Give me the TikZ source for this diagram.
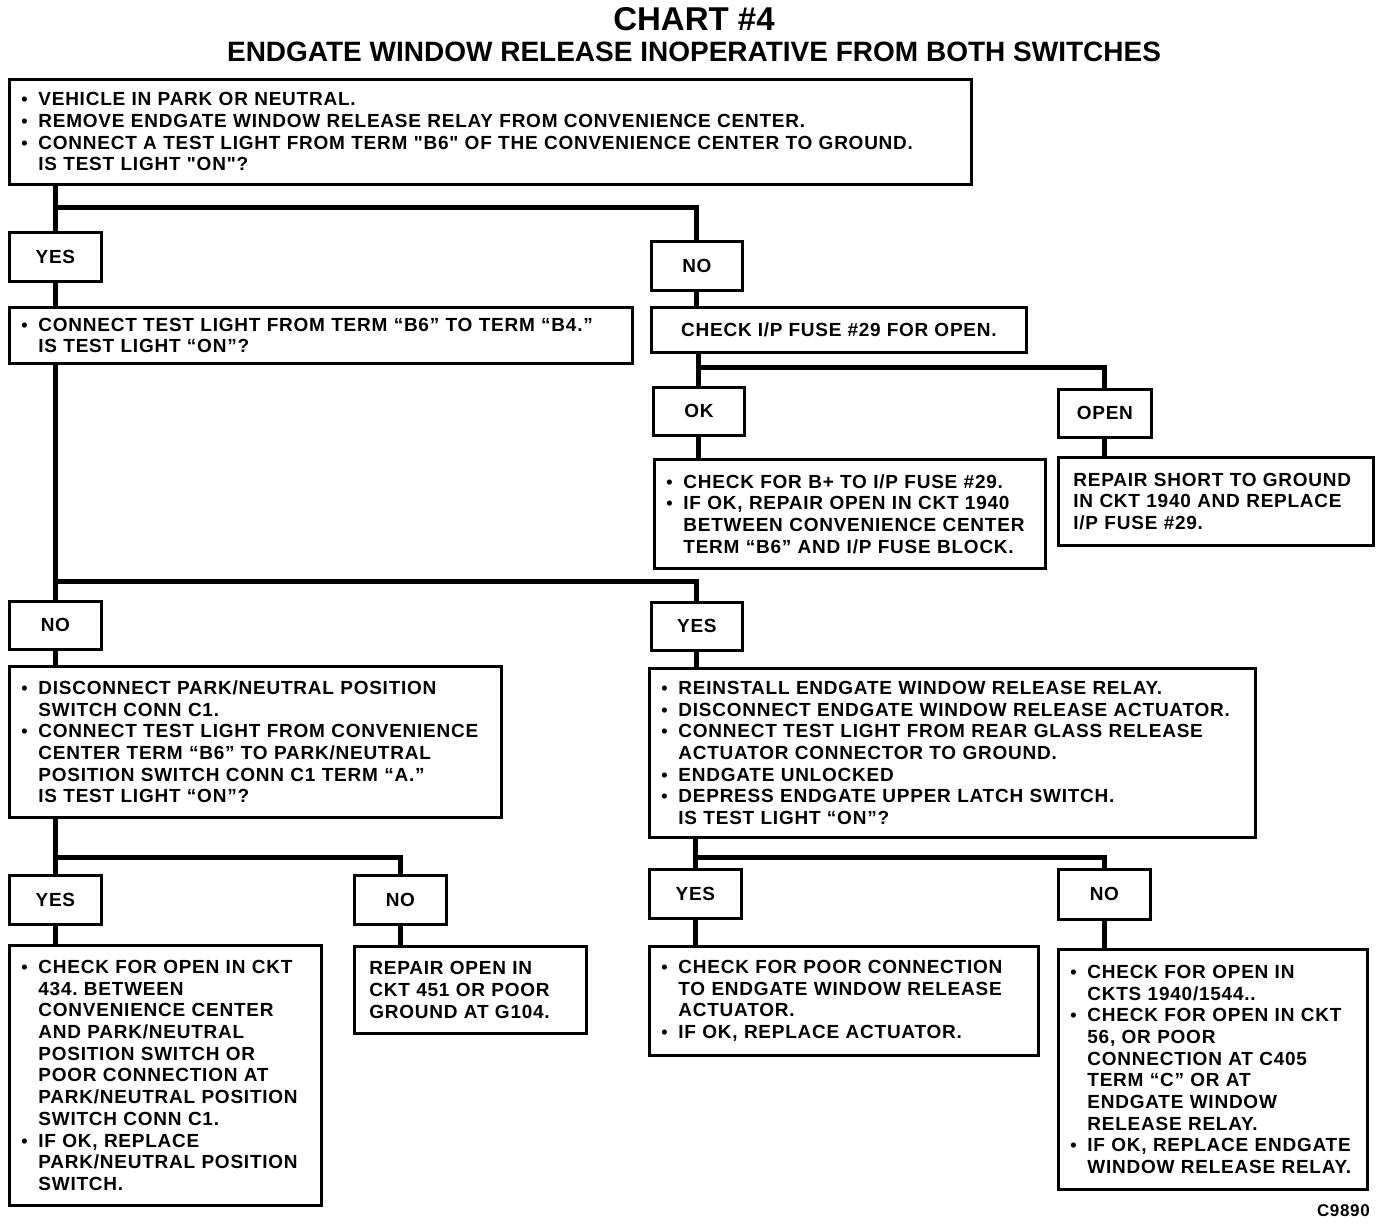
\documentclass[tikz,border=0pt]{standalone}
\usepackage{fontspec}
\usetikzlibrary{backgrounds}
\frenchspacing
\newfontfamily\bodyfont[LetterSpace=4]{Liberation Sans}
\newfontfamily\titlefont{Liberation Sans}
\newcommand\bul{\makebox[17pt][l]{\fontsize{18}{18}\selectfont\raisebox{0pt}{•}}}
\newcommand\ind{\hspace*{17pt}}
\tikzset{
  x=1pt, y=-1pt,
  box/.style={draw, fill=white, line width=2.8pt, anchor=north west, inner xsep=12pt, inner ysep=0pt,
    align=left, font=\bodyfont\bfseries\fontsize{19}{21.7}\selectfont},
  lbl/.style={draw, fill=white, line width=2.8pt, anchor=north west, inner sep=0pt, align=center,
    font=\bodyfont\bfseries\fontsize{19}{21.7}\selectfont},
  conn/.style={line width=5pt, line join=miter}
}
\begin{document}
\begin{tikzpicture}
\useasboundingbox (0,0) rectangle (1392,1226);
\node[font=\titlefont\bfseries\fontsize{33}{36}\selectfont] (t1) at (694,19) {CHART \#4};
\node[font=\titlefont\bfseries\fontsize{28}{30}\selectfont] (t2) at (694,52) {ENDGATE WINDOW RELEASE INOPERATIVE FROM BOTH SWITCHES};

\node[box, minimum width=962, minimum height=105, text width=938] (A) at (8,78)
 {\bul VEHICLE IN PARK OR NEUTRAL.\\
  \bul REMOVE ENDGATE WINDOW RELEASE RELAY FROM CONVENIENCE CENTER.\\
  \bul CONNECT A TEST LIGHT FROM TERM "B6" OF THE CONVENIENCE CENTER TO GROUND.\\
  \ind IS TEST LIGHT "ON"?};

\node[lbl, minimum width=92, minimum height=49] (yes1) at (8,231) {YES};
\node[lbl, minimum width=91, minimum height=49] (no1) at (650,240) {NO};

\node[box, minimum width=623, minimum height=56, text width=599] (B) at (8,306)
 {\bul CONNECT TEST LIGHT FROM TERM “B6” TO TERM “B4.”\\
  \ind IS TEST LIGHT “ON”?};
\node[lbl, minimum width=375, minimum height=45] (C) at (650,306) {CHECK I/P FUSE \#29 FOR OPEN.};

\node[lbl, minimum width=91, minimum height=48] (ok) at (652,386) {OK};
\node[lbl, minimum width=93, minimum height=48] (open) at (1057,388) {OPEN};

\node[box, minimum width=391, minimum height=109, text width=367] (D) at (653,458)
 {\bul CHECK FOR B+ TO I/P FUSE \#29.\\
  \bul IF OK, REPAIR OPEN IN CKT 1940\\
  \ind BETWEEN CONVENIENCE CENTER\\
  \ind TERM “B6” AND I/P FUSE BLOCK.};
\node[box, minimum width=315, minimum height=88, text width=285, inner xsep=15pt] (E) at (1057,456)
 {REPAIR SHORT TO GROUND\\
  IN CKT 1940 AND REPLACE\\
  I/P FUSE \#29.};

\node[lbl, minimum width=92, minimum height=48] (no2) at (8,600) {NO};
\node[lbl, minimum width=91, minimum height=48] (yes2) at (650,601) {YES};

\node[box, minimum width=492, minimum height=151, text width=468] (F) at (8,665)
 {\bul DISCONNECT PARK/NEUTRAL POSITION\\
  \ind SWITCH CONN C1.\\
  \bul CONNECT TEST LIGHT FROM CONVENIENCE\\
  \ind CENTER TERM “B6” TO PARK/NEUTRAL\\
  \ind POSITION SWITCH CONN C1 TERM “A.”\\
  \ind IS TEST LIGHT “ON”?};
\node[box, minimum width=606, minimum height=169, text width=582] (G) at (648,667)
 {\bul REINSTALL ENDGATE WINDOW RELEASE RELAY.\\
  \bul DISCONNECT ENDGATE WINDOW RELEASE ACTUATOR.\\
  \bul CONNECT TEST LIGHT FROM REAR GLASS RELEASE\\
  \ind ACTUATOR CONNECTOR TO GROUND.\\
  \bul ENDGATE UNLOCKED\\
  \bul DEPRESS ENDGATE UPPER LATCH SWITCH.\\
  \ind IS TEST LIGHT “ON”?};

\node[lbl, minimum width=92, minimum height=49] (yes3) at (8,874) {YES};
\node[lbl, minimum width=92, minimum height=49] (no3) at (353,874) {NO};
\node[lbl, minimum width=92, minimum height=49] (yes4) at (648,868) {YES};
\node[lbl, minimum width=92, minimum height=50] (no4) at (1057,868) {NO};

\node[box, minimum width=312, minimum height=260, text width=288] (H) at (8,944)
 {\bul CHECK FOR OPEN IN CKT\\
  \ind 434. BETWEEN\\
  \ind CONVENIENCE CENTER\\
  \ind AND PARK/NEUTRAL\\
  \ind POSITION SWITCH OR\\
  \ind POOR CONNECTION AT\\
  \ind PARK/NEUTRAL POSITION\\
  \ind SWITCH CONN C1.\\
  \bul IF OK, REPLACE\\
  \ind PARK/NEUTRAL POSITION\\
  \ind SWITCH.};
\node[box, minimum width=232, minimum height=87, text width=202, inner xsep=15pt] (I) at (353,945)
 {REPAIR OPEN IN\\
  CKT 451 OR POOR\\
  GROUND AT G104.};
\node[box, minimum width=389, minimum height=109, text width=365] (J) at (648,945)
 {\bul CHECK FOR POOR CONNECTION\\
  \ind TO ENDGATE WINDOW RELEASE\\
  \ind ACTUATOR.\\
  \bul IF OK, REPLACE ACTUATOR.};
\node[box, minimum width=309, minimum height=240, text width=285] (K) at (1057,948)
 {\bul CHECK FOR OPEN IN\\
  \ind CKTS 1940/1544..\\
  \bul CHECK FOR OPEN IN CKT\\
  \ind 56, OR POOR\\
  \ind CONNECTION AT C405\\
  \ind TERM “C” OR AT\\
  \ind ENDGATE WINDOW\\
  \ind RELEASE RELAY.\\
  \bul IF OK, REPLACE ENDGATE\\
  \ind WINDOW RELEASE RELAY.};

\node[anchor=east, inner sep=0pt, font=\bodyfont\bfseries\fontsize{17}{18}\selectfont] (code) at (1370,1211) {C9890};

\coordinate (j1) at (54,207);
\coordinate (j2) at (697,367);
\coordinate (j3) at (54,581);
\coordinate (j4) at (54,857);
\coordinate (j5) at (694,857);

\begin{pgfonlayer}{background}
\draw[conn] (yes1.north |- A.south) -- (yes1.north);
\draw[conn] (j1) -| (no1.north);
\draw[conn] (yes1.south) -- (yes1.south |- B.north);
\draw[conn] (no1.south) -- (no1.south |- C.north);
\draw[conn] (ok.north |- C.south) -- (ok.north);
\draw[conn] (j2) -| (open.north);
\draw[conn] (ok.south) -- (ok.south |- D.north);
\draw[conn] (open.south) -- (open.south |- E.north);
\draw[conn] (no2.north |- B.south) -- (no2.north);
\draw[conn] (j3) -| (yes2.north);
\draw[conn] (no2.south) -- (no2.south |- F.north);
\draw[conn] (yes2.south) -- (yes2.south |- G.north);
\draw[conn] (yes3.north |- F.south) -- (yes3.north);
\draw[conn] (j4) -| (no3.north);
\draw[conn] (yes4.north |- G.south) -- (yes4.north);
\draw[conn] (j5) -| (no4.north);
\draw[conn] (yes3.south) -- (yes3.south |- H.north);
\draw[conn] (no3.south) -- (no3.south |- I.north);
\draw[conn] (yes4.south) -- (yes4.south |- J.north);
\draw[conn] (no4.south) -- (no4.south |- K.north);
\end{pgfonlayer}
\end{tikzpicture}
\end{document}
